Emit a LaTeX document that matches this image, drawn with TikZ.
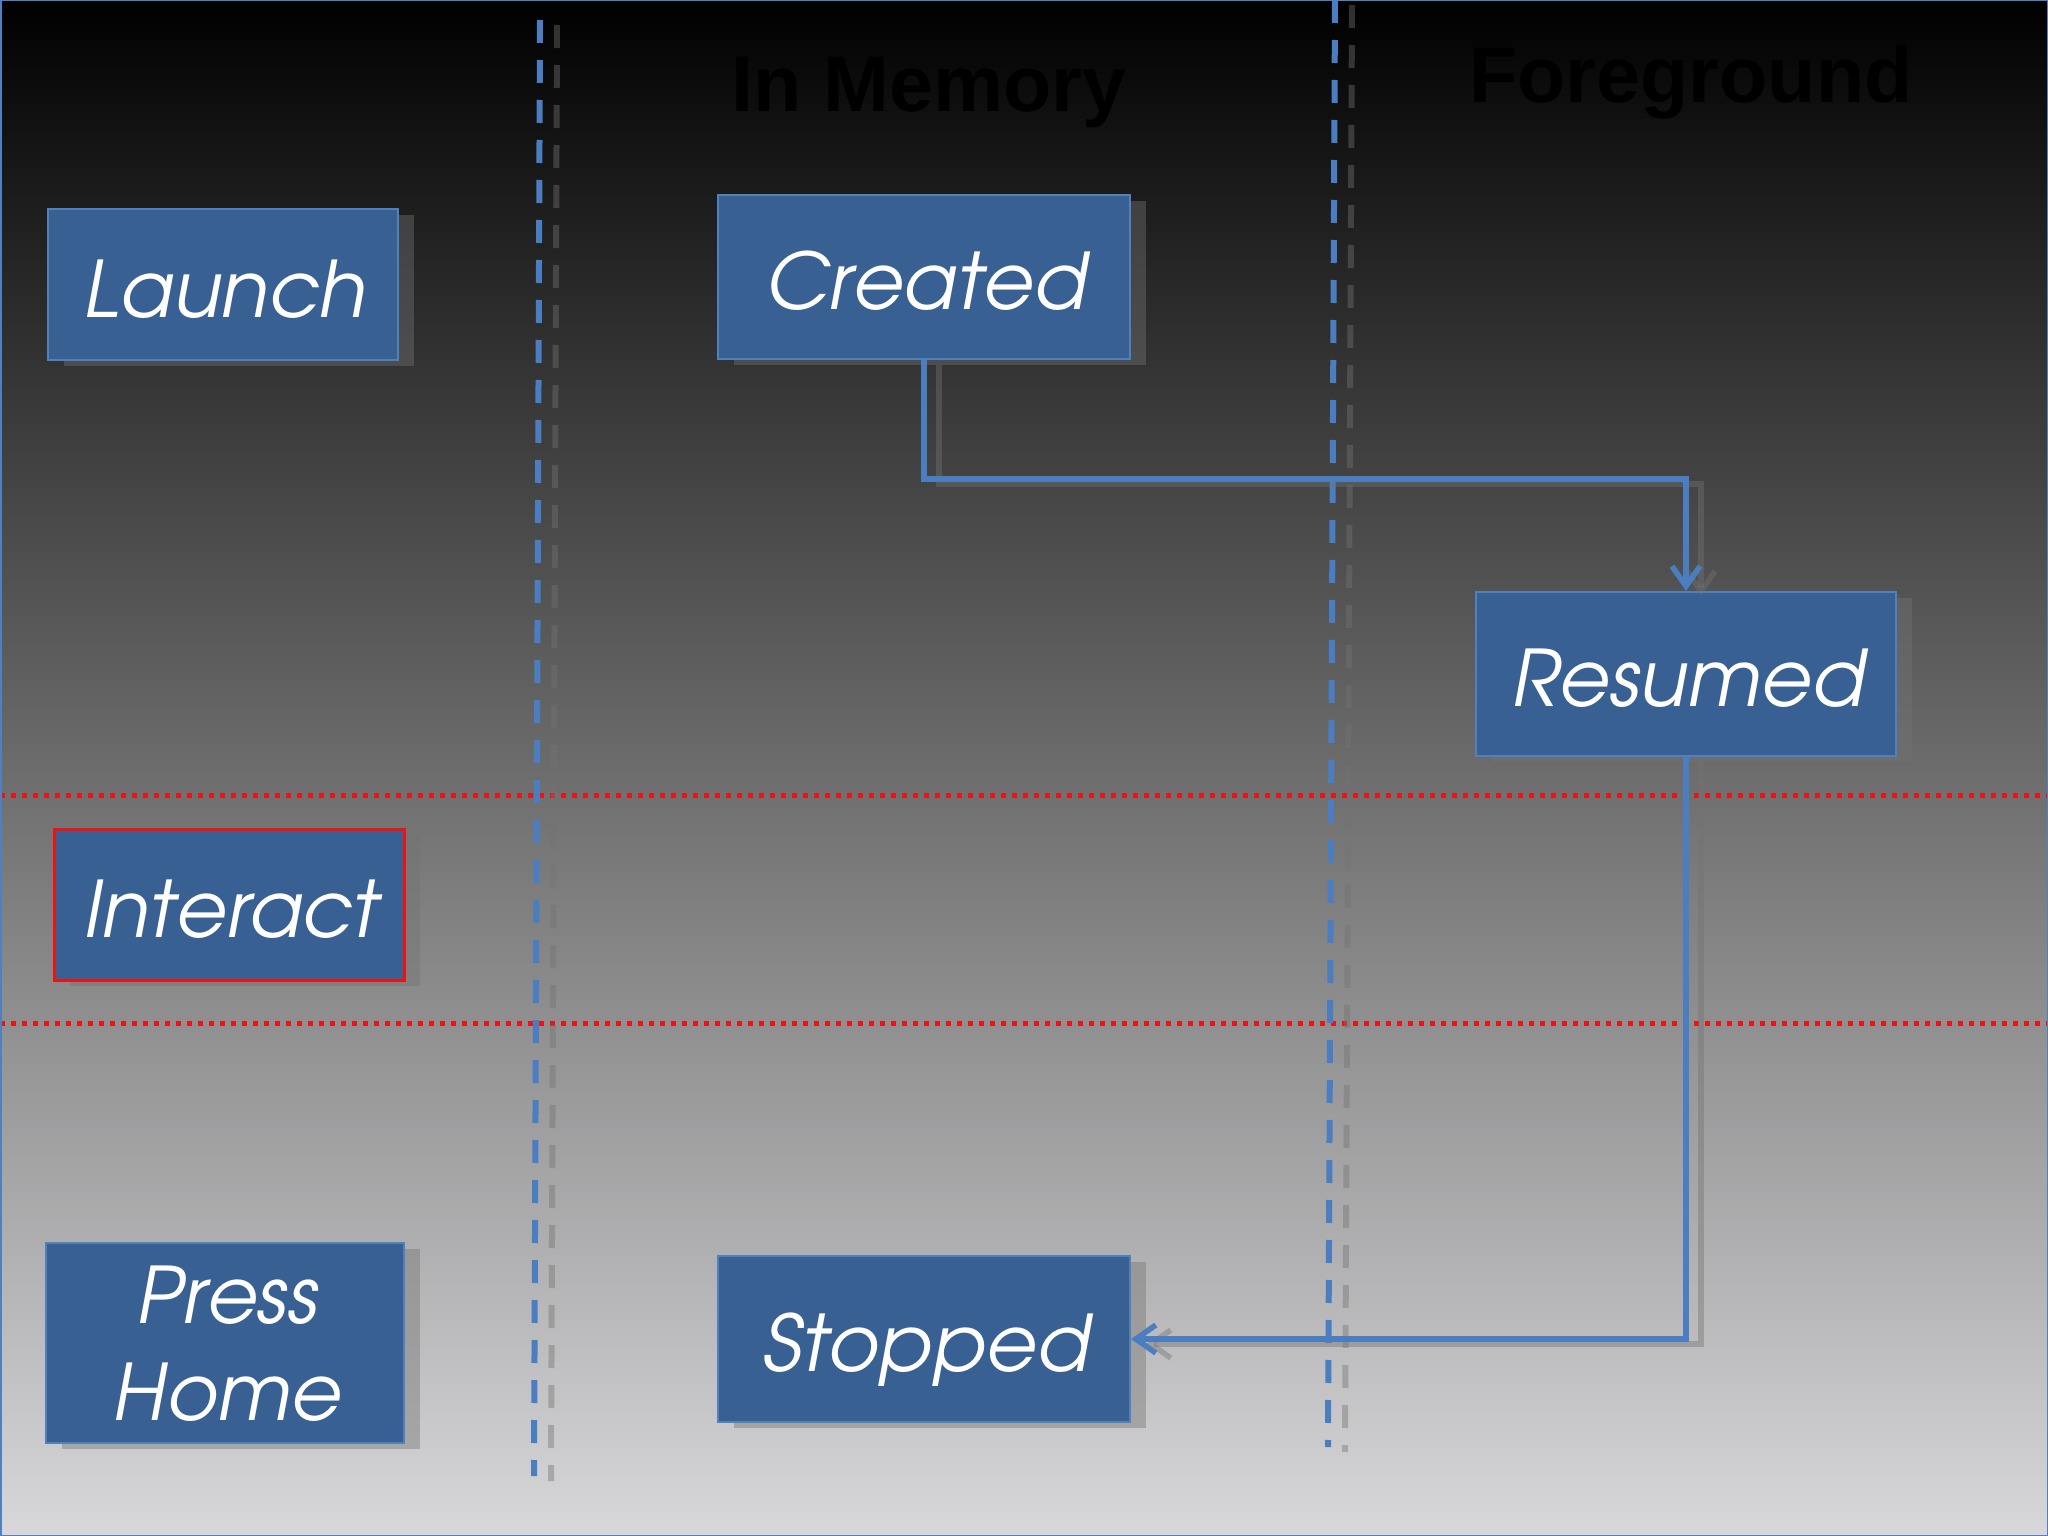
\documentclass[tikz,border=0pt]{standalone}
\usepackage[T1]{fontenc}
\usepackage{fontspec}
\usetikzlibrary{arrows.meta,shadows}
\newfontfamily\titlefont{Liberation Sans}
\definecolor{boxfill}{RGB}{56,96,146}
\definecolor{boxedge}{RGB}{79,129,189}
\definecolor{laneblue}{RGB}{74,126,193}
\definecolor{divred}{RGB}{235,20,20}
\definecolor{shadowgray}{RGB}{115,115,115}
\definecolor{bgbottom}{RGB}{216,216,218}
\tikzset{
  statebox/.style={draw=boxedge, line width=2pt, fill=boxfill, text=white,
    font={\fontencoding{T1}\fontfamily{pag}\fontseries{m}\fontshape{sl}\fontsize{78}{97}\selectfont},
    inner sep=0pt, align=center,
    drop shadow={shadow xshift=16pt, shadow yshift=-6pt, fill=shadowgray, opacity=0.42}},
  oneline/.style={text height=75pt, text depth=10pt},
  lane/.style={draw=laneblue, line width=6pt, dash pattern=on 23pt off 17pt},
  laneshadow/.style={draw=shadowgray, draw opacity=0.42, line width=6pt, dash pattern=on 23pt off 17pt,
    transform canvas={shift={(17pt,-5pt)}}},
  divider/.style={draw=divred, line width=5pt, dash pattern=on 5pt off 6pt},
  flow/.style={draw=laneblue, line width=5.5pt, -{Straight Barb[length=20pt,width=28pt]}},
  flowshadow/.style={draw=shadowgray, draw opacity=0.42, line width=5.5pt, -{Straight Barb[length=20pt,width=28pt]},
    transform canvas={shift={(15pt,-5pt)}}},
  lanetitle/.style={anchor=base, text=black, font={\titlefont\bfseries\fontsize{79}{90}\selectfont}, inner sep=0pt}
}
\begin{document}
\begin{tikzpicture}[x=1pt,y=-1pt]
\useasboundingbox (0,0) rectangle (2048,1536);
\shade[top color=black, bottom color=bgbottom] (0,0) rectangle (2048,1536);

% horizontal red dividers
\coordinate (d1l) at (0,795);
\coordinate (d1r) at (2048,795);
\coordinate (d2l) at (0,1023);
\coordinate (d2r) at (2048,1023);
\draw[divider] (d1l) -- (d1r);
\draw[divider] (d2l) -- (d2r);

% vertical lane separators
\coordinate (l1t) at (540,20);
\coordinate (l1b) at (534,1476);
\coordinate (l2t) at (1335,0);
\coordinate (l2b) at (1328,1447);
\draw[laneshadow] (l1t) -- (l1b);
\draw[laneshadow] (l2t) -- (l2b);
\draw[lane] (l1t) -- (l1b);
\draw[lane] (l2t) -- (l2b);

% titles
\node[lanetitle] (tmem) at (929,112) {In Memory};
\node[lanetitle] (tfg) at (1691,103) {Foreground};

% boxes
\node[statebox, oneline, minimum width=350pt, minimum height=151pt] (launch) at (223,284.5) {Launch};
\node[statebox, oneline, minimum width=412pt, minimum height=164pt] (created) at (924,277) {Created};
\node[statebox, oneline, minimum width=420pt, minimum height=164pt] (resumed) at (1686,674) {Resumed};
\node[statebox, oneline, draw=divred, line width=3pt, minimum width=350pt, minimum height=151pt] (interact) at (229,904.5) {Interact};
\node[statebox, minimum width=358pt, minimum height=200pt] (home) at (225,1343) {Press\\Home};
\node[statebox, oneline, minimum width=412pt, minimum height=166pt] (stopped) at (924,1339) {Stopped};

% connectors
\coordinate (bend) at (0,479);
\draw[flowshadow] (created.south) -- (created.south |- bend) -| (resumed.north);
\draw[flowshadow] (resumed.south) |- (stopped.east);
\draw[flow] (created.south) -- (created.south |- bend) -| (resumed.north);
\draw[flow] (resumed.south) |- (stopped.east);

% slide frame
\draw[boxedge, line width=3pt] (0,0) rectangle (2048,1536);
\end{tikzpicture}
\end{document}
